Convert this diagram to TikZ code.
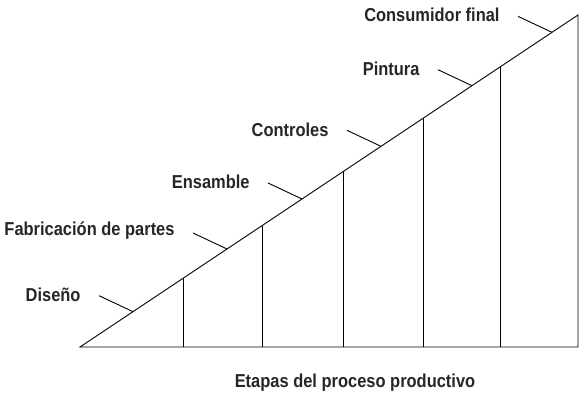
\documentclass[tikz,border=0pt]{standalone}
\usepackage{fontspec}
\setmainfont{Liberation Sans}[FakeStretch=0.88]
\usepackage{tikz}
\usetikzlibrary{calc,positioning}

\begin{document}
\begin{tikzpicture}[x=1pt,y=-1pt,line width=0.9pt,
    etiqueta/.style={font=\bfseries\fontsize{18.7}{22}\selectfont,inner sep=0pt,text=black!85}]
       \useasboundingbox (0,0) rectangle (584,393);
       % vertices
       \coordinate (a) at (80,347);
       \coordinate (b) at (578,347);
       \coordinate (c) at (578,15);

       % draw diagram
       \draw (a) -- (b) -- (c) -- cycle;
       \foreach \t in {0.2068,0.3655,0.5281,0.6888,0.8434} {
         \coordinate (v) at ($(a)!\t!(c)$);
         \draw (v) -- (v |- a);
       }

       % puntos sobre la hipotenusa
       \coordinate (p1) at ($(a)!0.1064!(c)$);
       \coordinate (p2) at ($(a)!0.2952!(c)$);
       \coordinate (p3) at ($(a)!0.4458!(c)$);
       \coordinate (p4) at ($(a)!0.6044!(c)$);
       \coordinate (p5) at ($(a)!0.7871!(c)$);
       \coordinate (p6) at ($(a)!0.9478!(c)$);
       \coordinate (q1) at ($(p1)+(-34,-16)$);
       \coordinate (q2) at ($(p2)+(-34,-16)$);
       \coordinate (q3) at ($(p3)+(-34,-16)$);
       \coordinate (q4) at ($(p4)+(-34,-16)$);
       \coordinate (q5) at ($(p5)+(-34,-16)$);
       \coordinate (q6) at ($(p6)+(-34,-16)$);
       \draw (q1) -- (p1);
       \draw (q2) -- (p2);
       \draw (q3) -- (p3);
       \draw (q4) -- (p4);
       \draw (q5) -- (p5);
       \draw (q6) -- (p6);

       % labels
       \node[etiqueta,left=18pt of q1,yshift=1pt] (diseno) {Diseño};
       \node[etiqueta,left=18pt of q2,yshift=2pt] (fabricacion) {Fabricación de partes};
       \node[etiqueta,left=18pt of q3,yshift=1pt] (ensamble) {Ensamble};
       \node[etiqueta,left=18pt of q4,yshift=1pt] (controles) {Controles};
       \node[etiqueta,left=18pt of q5,yshift=1pt] (pintura) {Pintura};
       \node[etiqueta,left=18pt of q6,yshift=2pt] (consumidor) {Consumidor final};
       \node[etiqueta,anchor=base] (etapas) at (355,387) {Etapas del proceso productivo};
\end{tikzpicture}
\end{document}
